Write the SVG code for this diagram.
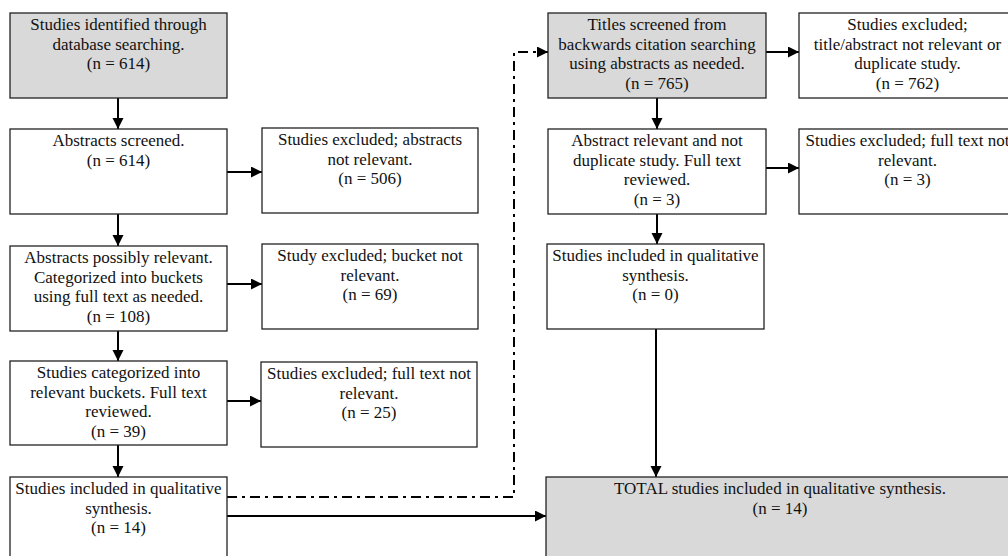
<svg xmlns="http://www.w3.org/2000/svg" width="1008" height="556" viewBox="0 0 1008 556">
<style>
rect.b{fill:#fff;stroke:#222;stroke-width:1.3}
rect.g{fill:#d9d9d9;stroke:#222;stroke-width:1.3}
text{font-family:"Liberation Serif","Times New Roman",serif;font-size:17px;fill:#111;text-anchor:middle}
.c line,.c path{stroke:#000;stroke-width:2;fill:none}
.c .dd{stroke-dasharray:10 5 3 5}
</style>
<defs>
<marker id="ah" markerUnits="userSpaceOnUse" markerWidth="12" markerHeight="12" refX="11" refY="5.5" orient="auto">
<path d="M0,0 L11,5.5 L0,11 z" fill="#000"/>
</marker>
</defs>
<rect width="1008" height="556" fill="#fff"/>
<g class="c" id="connectors">
<line x1="118" y1="98" x2="118" y2="129" marker-end="url(#ah)"/>
<line x1="227" y1="172" x2="262" y2="172" marker-end="url(#ah)"/>
<line x1="118" y1="214" x2="118" y2="246" marker-end="url(#ah)"/>
<line x1="227" y1="284" x2="262" y2="284" marker-end="url(#ah)"/>
<line x1="118" y1="331" x2="118" y2="361" marker-end="url(#ah)"/>
<line x1="227" y1="401" x2="261" y2="401" marker-end="url(#ah)"/>
<line x1="118" y1="445" x2="118" y2="477" marker-end="url(#ah)"/>
<line x1="227" y1="516" x2="546" y2="516" marker-end="url(#ah)"/>
<path class="dd" d="M227,497 H514 V52 H548" marker-end="url(#ah)"/>
<line x1="766" y1="52" x2="799" y2="52" marker-end="url(#ah)"/>
<line x1="657" y1="98" x2="657" y2="129" marker-end="url(#ah)"/>
<line x1="766" y1="168" x2="799" y2="168" marker-end="url(#ah)"/>
<line x1="657" y1="214" x2="657" y2="244" marker-end="url(#ah)"/>
<line x1="656" y1="329" x2="656" y2="477" marker-end="url(#ah)"/>
</g>
<g id="b1"><rect class="g" x="10" y="13" width="217" height="85"/>
<text x="118.5" y="30">Studies identified through</text><text x="118.5" y="49.6">database searching.</text><text x="118.5" y="69.2">(n = 614)</text></g>
<g id="b2"><rect class="b" x="10" y="129" width="217" height="85"/>
<text x="118.5" y="146">Abstracts screened.</text><text x="118.5" y="165.6">(n = 614)</text></g>
<g id="b3"><rect class="b" x="10" y="246" width="217" height="85"/>
<text x="118.5" y="263">Abstracts possibly relevant.</text><text x="118.5" y="282.6">Categorized into buckets</text><text x="118.5" y="302.2">using full text as needed.</text><text x="118.5" y="321.8">(n = 108)</text></g>
<g id="b4"><rect class="b" x="10" y="361" width="217" height="84"/>
<text x="118.5" y="378">Studies categorized into</text><text x="118.5" y="397.6">relevant buckets. Full text</text><text x="118.5" y="417.2">reviewed.</text><text x="118.5" y="436.8">(n = 39)</text></g>
<g id="b5"><rect class="b" x="10" y="477" width="217" height="85"/>
<text x="118.5" y="494">Studies included in qualitative</text><text x="118.5" y="513.6">synthesis.</text><text x="118.5" y="533.2">(n = 14)</text></g>
<g id="e1"><rect class="b" x="262" y="128" width="216" height="85"/>
<text x="370" y="145">Studies excluded; abstracts</text><text x="370" y="164.6">not relevant.</text><text x="370" y="184.2">(n = 506)</text></g>
<g id="e2"><rect class="b" x="262" y="244" width="216" height="85"/>
<text x="370" y="261">Study excluded; bucket not</text><text x="370" y="280.6">relevant.</text><text x="370" y="300.2">(n = 69)</text></g>
<g id="e3"><rect class="b" x="261" y="362" width="216" height="85"/>
<text x="369" y="379">Studies excluded; full text not</text><text x="369" y="398.6">relevant.</text><text x="369" y="418.2">(n = 25)</text></g>
<g id="r1"><rect class="g" x="548" y="13" width="218" height="85"/>
<text x="657" y="30">Titles screened from</text><text x="657" y="49.6">backwards citation searching</text><text x="657" y="69.2">using abstracts as needed.</text><text x="657" y="88.8">(n = 765)</text></g>
<g id="r2"><rect class="b" x="548" y="129" width="218" height="85"/>
<text x="657" y="146">Abstract relevant and not</text><text x="657" y="165.6">duplicate study. Full text</text><text x="657" y="185.2">reviewed.</text><text x="657" y="204.8">(n = 3)</text></g>
<g id="r3"><rect class="b" x="547" y="244" width="217" height="85"/>
<text x="655.5" y="261">Studies included in qualitative</text><text x="655.5" y="280.6">synthesis.</text><text x="655.5" y="300.2">(n = 0)</text></g>
<g id="x1"><rect class="b" x="799" y="13" width="217" height="85"/>
<text x="907.5" y="30">Studies excluded;</text><text x="907.5" y="49.6">title/abstract not relevant or</text><text x="907.5" y="69.2">duplicate study.</text><text x="907.5" y="88.8">(n = 762)</text></g>
<g id="x2"><rect class="b" x="799" y="129" width="217" height="85"/>
<text x="907.5" y="146">Studies excluded; full text not</text><text x="907.5" y="165.6">relevant.</text><text x="907.5" y="185.2">(n = 3)</text></g>
<g id="total"><rect class="g" x="546" y="477" width="468" height="85"/>
<text x="780" y="494">TOTAL studies included in qualitative synthesis.</text><text x="780" y="513.6">(n = 14)</text></g>
</svg>
